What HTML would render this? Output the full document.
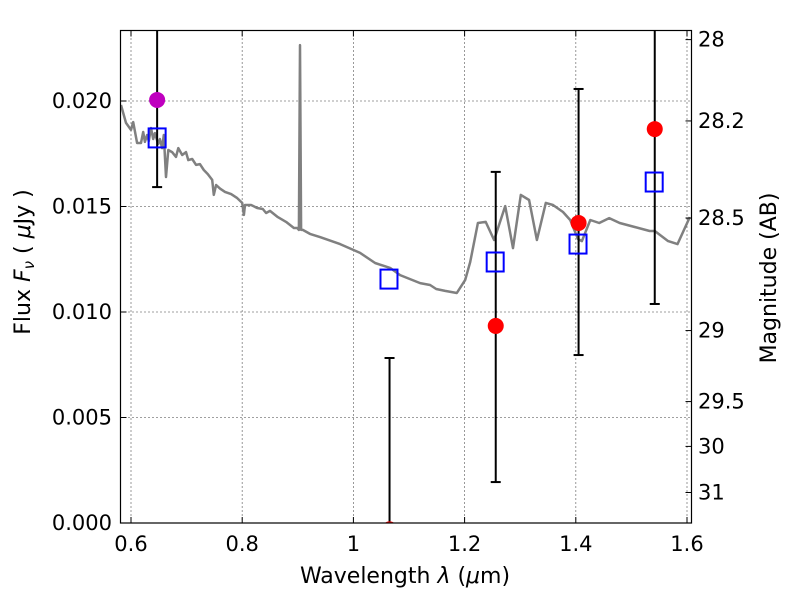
<!DOCTYPE html>
<html><head><meta charset="utf-8">
<style>
body{margin:0;background:#fff;}
svg{display:block;font-family:"DejaVu Sans","Liberation Sans",sans-serif;}
</style></head>
<body>
<svg id="chart" width="800" height="600" viewBox="0 0 800 600" xmlns="http://www.w3.org/2000/svg">
<defs><clipPath id="clip"><rect x="120.5" y="30.5" width="571" height="492.5"/></clipPath></defs>
<rect x="0" y="0" width="800" height="600" fill="#fff"/>
<g id="grid"></g>
<g id="plot" clip-path="url(#clip)"></g>
<rect x="120.5" y="30.5" width="571" height="492.5" fill="none" stroke="#000" stroke-width="1.2"/>
<g id="ticks"></g>
<text x="405" y="583" font-size="22" text-anchor="middle">Wavelength  <tspan font-style="italic">λ</tspan> (<tspan font-style="italic">μ</tspan>m)</text>
<text transform="translate(30,262) rotate(-90)" font-size="22" text-anchor="middle">Flux  <tspan font-style="italic">F<tspan font-size="15" dy="4">ν</tspan></tspan><tspan dy="-4">  (  </tspan><tspan font-style="italic">μ</tspan>Jy )</text>
<text transform="translate(776,278) rotate(-90)" font-size="22" text-anchor="middle">Magnitude (AB)</text>
</svg>
<script>
const xTicks=[0.6,0.8,1.0,1.2,1.4,1.6];
const xTickLabels=["0.6","0.8","1","1.2","1.4","1.6"];
const yTicks=[0,0.005,0.010,0.015,0.020];
const yTickLabels=["0.000","0.005","0.010","0.015","0.020"];
const magTicks=[28,28.2,28.5,29,29.5,30,31];
const magTickLabels=["28","28.2","28.5","29","29.5","30","31"];
const specWl=[0.582,0.591,0.600,0.604,0.611,0.618,0.622,0.625,0.629,0.632,0.636,0.640,0.643,0.649,0.652,0.656,0.659,0.663,0.667,0.674,0.681,0.685,0.692,0.699,0.703,0.710,0.717,0.724,0.731,0.738,0.746,0.749,0.753,0.760,0.769,0.780,0.791,0.800,0.803,0.805,0.816,0.827,0.837,0.843,0.850,0.864,0.879,0.893,0.899,0.902,0.904,0.906,0.909,0.922,0.940,0.976,1.012,1.039,1.066,1.084,1.102,1.120,1.138,1.149,1.165,1.186,1.201,1.210,1.224,1.238,1.253,1.273,1.287,1.301,1.316,1.330,1.346,1.359,1.377,1.390,1.404,1.411,1.426,1.442,1.460,1.479,1.506,1.533,1.542,1.566,1.583,1.605];
const specFlux=[0.01981,0.01896,0.01863,0.01900,0.01801,0.01801,0.01853,0.01806,0.01839,0.01810,0.01872,0.01820,0.01848,0.01796,0.01820,0.01777,0.01839,0.01640,0.01768,0.01758,0.01735,0.01777,0.01744,0.01758,0.01720,0.01725,0.01697,0.01701,0.01673,0.01654,0.01626,0.01555,0.01602,0.01585,0.01569,0.01559,0.01540,0.01517,0.01460,0.01507,0.01507,0.01493,0.01488,0.01469,0.01479,0.01450,0.01427,0.01398,0.01398,0.01389,0.02265,0.01389,0.01389,0.01370,0.01355,0.01322,0.01280,0.01232,0.01209,0.01175,0.01156,0.01137,0.01128,0.01109,0.01100,0.01090,0.01152,0.01237,0.01422,0.01427,0.01341,0.01502,0.01303,0.01555,0.01531,0.01341,0.01517,0.01507,0.01474,0.01436,0.01346,0.01336,0.01436,0.01422,0.01445,0.01422,0.01403,0.01384,0.01384,0.01336,0.01322,0.01450];
const modelWl=[0.647,1.064,1.255,1.404,1.541];
const modelFlux=[0.01825,0.01156,0.01237,0.01322,0.01616];
const obsWl=[0.647,1.065,1.256,1.405,1.542];
const obsFlux=[0.02005,-0.0003,0.00934,0.01422,0.01867];
const obsLo=[0.01592,-0.005,0.00194,0.00796,0.01038];
const obsHi=[0.0260,0.00782,0.01664,0.02057,0.0260];
const obsColor=["#bf00bf","red","red","red","red"];

const NS="http://www.w3.org/2000/svg";
const xs=w=>131+(w-0.6)*556;
const ys=f=>523-f*21100;
const magToFlux=m=>Math.pow(10,(23.9-m)/2.5);
function mk(tag,attrs,parent){const e=document.createElementNS(NS,tag);for(const k in attrs)e.setAttribute(k,attrs[k]);parent.appendChild(e);return e;}
const grid=document.getElementById('grid'),plot=document.getElementById('plot'),ticks=document.getElementById('ticks');
xTicks.forEach((t,i)=>{
  const x=xs(t);
  const g=mk('line',{x1:x,x2:x,y1:30.5,y2:523,stroke:'#000','stroke-width':0.8,'stroke-dasharray':'1,3'},grid);
  
  
  mk('line',{x1:x,x2:x,y1:523,y2:517,stroke:'#000'},ticks);
  mk('line',{x1:x,x2:x,y1:30.5,y2:36.5,stroke:'#000'},ticks);
  const l=mk('text',{x:x,y:551,'font-size':21,'text-anchor':'middle'},ticks);
  l.textContent=xTickLabels[i];
  
  
});
yTicks.forEach((t,i)=>{
  const y=ys(t);
  const g=mk('line',{x1:120.5,x2:691.5,y1:y,y2:y,stroke:'#000','stroke-width':0.8,'stroke-dasharray':'1,3'},grid);
  
  
  mk('line',{x1:120.5,x2:126.5,y1:y,y2:y,stroke:'#000'},ticks);
  const l=mk('text',{x:112,y:y+7,'font-size':21,'text-anchor':'end'},ticks);
  l.textContent=yTickLabels[i];
  
  
});
magTicks.forEach((m,i)=>{
  const y=ys(magToFlux(m));
  mk('line',{x1:685.5,x2:691.5,y1:y,y2:y,stroke:'#000'},ticks);
  const l=mk('text',{x:698,y:y+7,'font-size':21},ticks);
  l.textContent=magTickLabels[i];
  
  
});
const pts=specWl.map((w,i)=>xs(w).toFixed(1)+','+ys(specFlux[i]).toFixed(1)).join(' ');
const sp=mk('polyline',{points:pts,fill:'none',stroke:'#808080','stroke-width':2.5,'stroke-linejoin':'round'},plot);


obsWl.forEach((w,i)=>{
  const x=xs(w);
  const e=mk('line',{x1:x,x2:x,y1:ys(obsLo[i]),y2:ys(obsHi[i]),stroke:'#000','stroke-width':2},plot);
  
  
  [obsLo[i],obsHi[i]].forEach(v=>{const y=ys(v);mk('line',{x1:x-5,x2:x+5,y1:y,y2:y,stroke:'#000','stroke-width':2},plot);});
});
modelWl.forEach((w,i)=>{
  const r=mk('rect',{x:xs(w)-8.5,y:ys(modelFlux[i])-9.5,width:17,height:19,fill:'none',stroke:'#0000ff','stroke-width':2},plot);
  
  
});
obsWl.forEach((w,i)=>{
  const c=mk('circle',{cx:xs(w),cy:ys(obsFlux[i]),r:8,fill:obsColor[i]},plot);
  
  
});
</script>
</body></html>
